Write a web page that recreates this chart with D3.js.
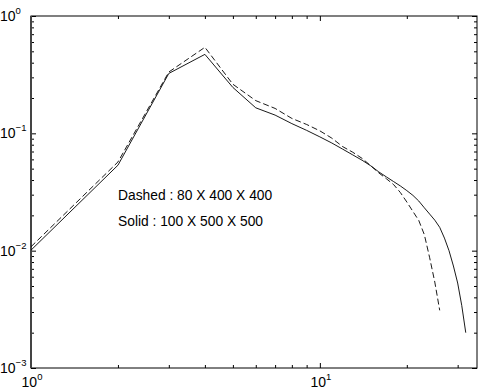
<!DOCTYPE html>
<html><head><meta charset="utf-8">
<script src="https://cdn.jsdelivr.net/npm/d3@7"></script>
<style>body{margin:0;background:#fff}svg{display:block}text{font-family:"Liberation Sans",Arial,Helvetica,sans-serif}</style>
</head><body><svg id="c" width="481" height="390"></svg>
<script>
const solidX = [1,2,3,4,5,6,7,8,9,10,11,12,13,14,15,16,17,18,19,20,21,22,23,24,25,26,27,28,29,30,31,32];
const solidY = [0.0101,0.0535,0.324,0.471,0.246,0.165,0.143,0.121,0.106,0.0933,0.0827,0.0733,0.0655,0.059,0.0529,0.0469,0.0425,0.0388,0.0356,0.0325,0.0296,0.0265,0.0232,0.0205,0.0182,0.0158,0.0128,0.010,0.0074,0.0053,0.0034,0.0020];
const dashedX = [1,2,3,4,5,6,7,8,9,10,11,12,13,14,15,16,17,18,19,20,21,22,23,24,25,26];
const dashedY = [0.0108,0.057,0.333,0.541,0.262,0.19,0.163,0.134,0.119,0.105,0.091,0.077,0.069,0.0612,0.053,0.046,0.041,0.0366,0.0313,0.026,0.0216,0.0181,0.0137,0.0087,0.0054,0.0031];
const xMajor = [1,10];
const xMajorLabels = ["0","1"];
const yMajor = [1e-3,1e-2,1e-1,1];
const yMajorLabels = ["\u22123","\u22122","\u22121","0"];
const annotations = ["Dashed : 80 X 400 X 400","Solid : 100 X 500 X 500"];

const svg = d3.select("#c");
const L=31,R=477,T=16,B=368;
const x = d3.scaleLog().domain([1,35]).range([L,R]);
const y = d3.scaleLog().domain([1e-3,1]).range([B,T]);

const xMinor=[], yMinor=[];
for (let d=1; d<=10; d*=10) for (let k=2;k<=9;k++){ if (k*d<35) xMinor.push(k*d); }
for (let d=1e-3; d<1; d*=10) for (let k=2;k<=9;k++) yMinor.push(k*d);

svg.append("rect").attr("x",L).attr("y",T).attr("width",R-L).attr("height",B-T)
  .attr("fill","none").attr("stroke","#000").attr("stroke-width",1);

function axis(gen, tr){
  const g = svg.append("g").attr("transform",tr).call(gen);
  g.select(".domain").remove();
  g.selectAll("text").remove();
  g.selectAll("line").attr("stroke","#000").attr("stroke-width",1);
}
axis(d3.axisBottom(x).tickValues(xMajor).tickSize(-5), `translate(0,${B})`);
axis(d3.axisBottom(x).tickValues(xMinor).tickSize(-3), `translate(0,${B})`);
axis(d3.axisTop(x).tickValues(xMajor).tickSize(-5), `translate(0,${T})`);
axis(d3.axisTop(x).tickValues(xMinor).tickSize(-3), `translate(0,${T})`);
axis(d3.axisLeft(y).tickValues(yMajor).tickSize(-5), `translate(${L},0)`);
axis(d3.axisLeft(y).tickValues(yMinor).tickSize(-3), `translate(${L},0)`);
axis(d3.axisRight(y).tickValues(yMajor).tickSize(-5), `translate(${R},0)`);
axis(d3.axisRight(y).tickValues(yMinor).tickSize(-3), `translate(${R},0)`);

svg.append("line").attr("x1",L).attr("x2",L).attr("y1",T).attr("y2",B).attr("stroke","#444").attr("stroke-width",2);

yMajor.forEach((v,i)=>{
  const t = svg.append("text").attr("x",0).attr("y",y(v)+5).attr("font-size",14).attr("fill","#000");
  t.append("tspan").text("10");
  t.append("tspan").attr("dy",-7).attr("font-size",9.5).text(yMajorLabels[i]);
});
xMajor.forEach((v,i)=>{
  const t = svg.append("text").attr("x",x(v)+1).attr("y",387).attr("font-size",14).attr("text-anchor","middle").attr("fill","#000");
  t.append("tspan").text("10");
  t.append("tspan").attr("dy",-7).attr("font-size",9.5).text(xMajorLabels[i]);
});

const line = d3.line().x(d=>x(d[0])).y(d=>y(d[1]));
svg.append("path").datum(dashedX.map((v,i)=>[v,dashedY[i]])).attr("d",line)
  .attr("fill","none").attr("stroke","#000").attr("stroke-width",0.9).attr("stroke-dasharray","6,3");
svg.append("path").datum(solidX.map((v,i)=>[v,solidY[i]])).attr("d",line)
  .attr("fill","none").attr("stroke","#000").attr("stroke-width",0.9);

annotations.forEach((s,i)=>{
  svg.append("text").attr("x",118).attr("y",200+i*26).attr("font-size",13.8).attr("fill","#000").text(s);
});
</script></body></html>
